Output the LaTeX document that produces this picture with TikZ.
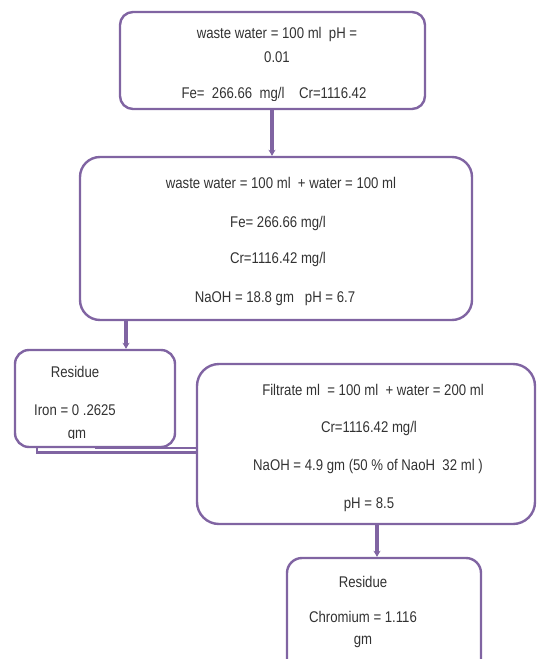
\documentclass[tikz,border=0pt]{standalone}
\usepackage{fontspec}
\setmainfont[FakeStretch=0.85]{Liberation Sans}
\usetikzlibrary{arrows.meta}
\definecolor{boxpurple}{RGB}{128,100,162}
\definecolor{txtgray}{RGB}{50,50,50}
\tikzset{
  flowbox/.style={draw=boxpurple, line width=2.4pt, fill=none, inner sep=0pt},
  lbl/.style={text=txtgray, inner sep=0pt, anchor=base, font=\fontsize{15.5}{18}\selectfont},
  arr/.style={draw=boxpurple, line width=3.2pt, -{Stealth[length=6pt,width=7pt]}},
  link/.style={draw=boxpurple, line width=2.4pt}
}
\begin{document}
\begin{tikzpicture}[x=1pt,y=-1pt]
\useasboundingbox (0,0) rectangle (537,659);
% boxes
\node[flowbox, rounded corners=13pt, minimum width=305pt, minimum height=97pt] (b1) at (272.5,60.5) {};
\node[flowbox, rounded corners=20pt, minimum width=392pt, minimum height=163pt] (b2) at (276,238.5) {};
\node[flowbox, rounded corners=14pt, minimum width=160pt, minimum height=97pt] (b3) at (95,398.5) {};
\node[flowbox, rounded corners=22pt, minimum width=338pt, minimum height=160pt] (b4) at (366,444) {};
\node[flowbox, rounded corners=15pt, minimum width=194pt, minimum height=142pt] (b5) at (384,629) {};
% texts box 1
\node[lbl] (t11) at (277,38.5) {waste water = 100 ml\ \ pH =};
\node[lbl] (t12) at (277,62.5) {0.01};
\begin{scope}
\clip (120,12) rectangle (425,100.5);
\node[lbl] (t13) at (274,98.5) {Fe=\ \ 266.66\ \ mg/l\ \ \ \ Cr=1116.42};
\end{scope}
% texts box 2
\node[lbl] (t21) at (281,188.5) {waste water = 100 ml\ \ + water = 100 ml};
\node[lbl] (t22) at (278,227.5) {Fe= 266.66 mg/l};
\node[lbl] (t23) at (278,263.5) {Cr=1116.42 mg/l};
\node[lbl] (t24) at (275,302.5) {NaOH = 18.8 gm\ \ \ pH = 6.7};
% texts box 3
\node[lbl] (t31) at (75,377.5) {Residue};
\node[lbl] (t32) at (75,415.5) {Iron = 0 .2625};
\begin{scope}
\clip (15,420) rectangle (175,438.5);
\node[lbl] (t33) at (77,438.5) {gm};
\end{scope}
% texts box 4
\node[lbl] (t41) at (373,395.5) {Filtrate ml\ \ = 100 ml\ \ + water = 200 ml};
\node[lbl] (t42) at (369,432.5) {Cr=1116.42 mg/l};
\node[lbl] (t43) at (368,470.5) {NaOH = 4.9 gm (50 \% of NaoH\ \ 32 ml )};
\node[lbl] (t44) at (369,508.5) {pH = 8.5};
% texts box 5
\node[lbl] (t51) at (363,587.5) {Residue};
\node[lbl] (t52) at (363,622.5) {Chromium = 1.116};
\node[lbl] (t53) at (363,644.5) {gm};
% connectors
\coordinate (x1) at (272,0);
\coordinate (x2) at (126,0);
\coordinate (x4) at (377,0);
\coordinate (c1) at (37,452.5);
\draw[arr] (b1.south -| x1) -- (b2.north -| x1);
\draw[arr] (b2.south -| x2) -- (b3.north -| x2);
\draw[link] (b3.south) -- (b3.south -| b4.west);
\draw[link] (b3.south -| c1) -- (c1) -- (c1 -| b4.west);
\draw[arr] (b4.south -| x4) -- (b5.north -| x4);
\end{tikzpicture}
\end{document}
